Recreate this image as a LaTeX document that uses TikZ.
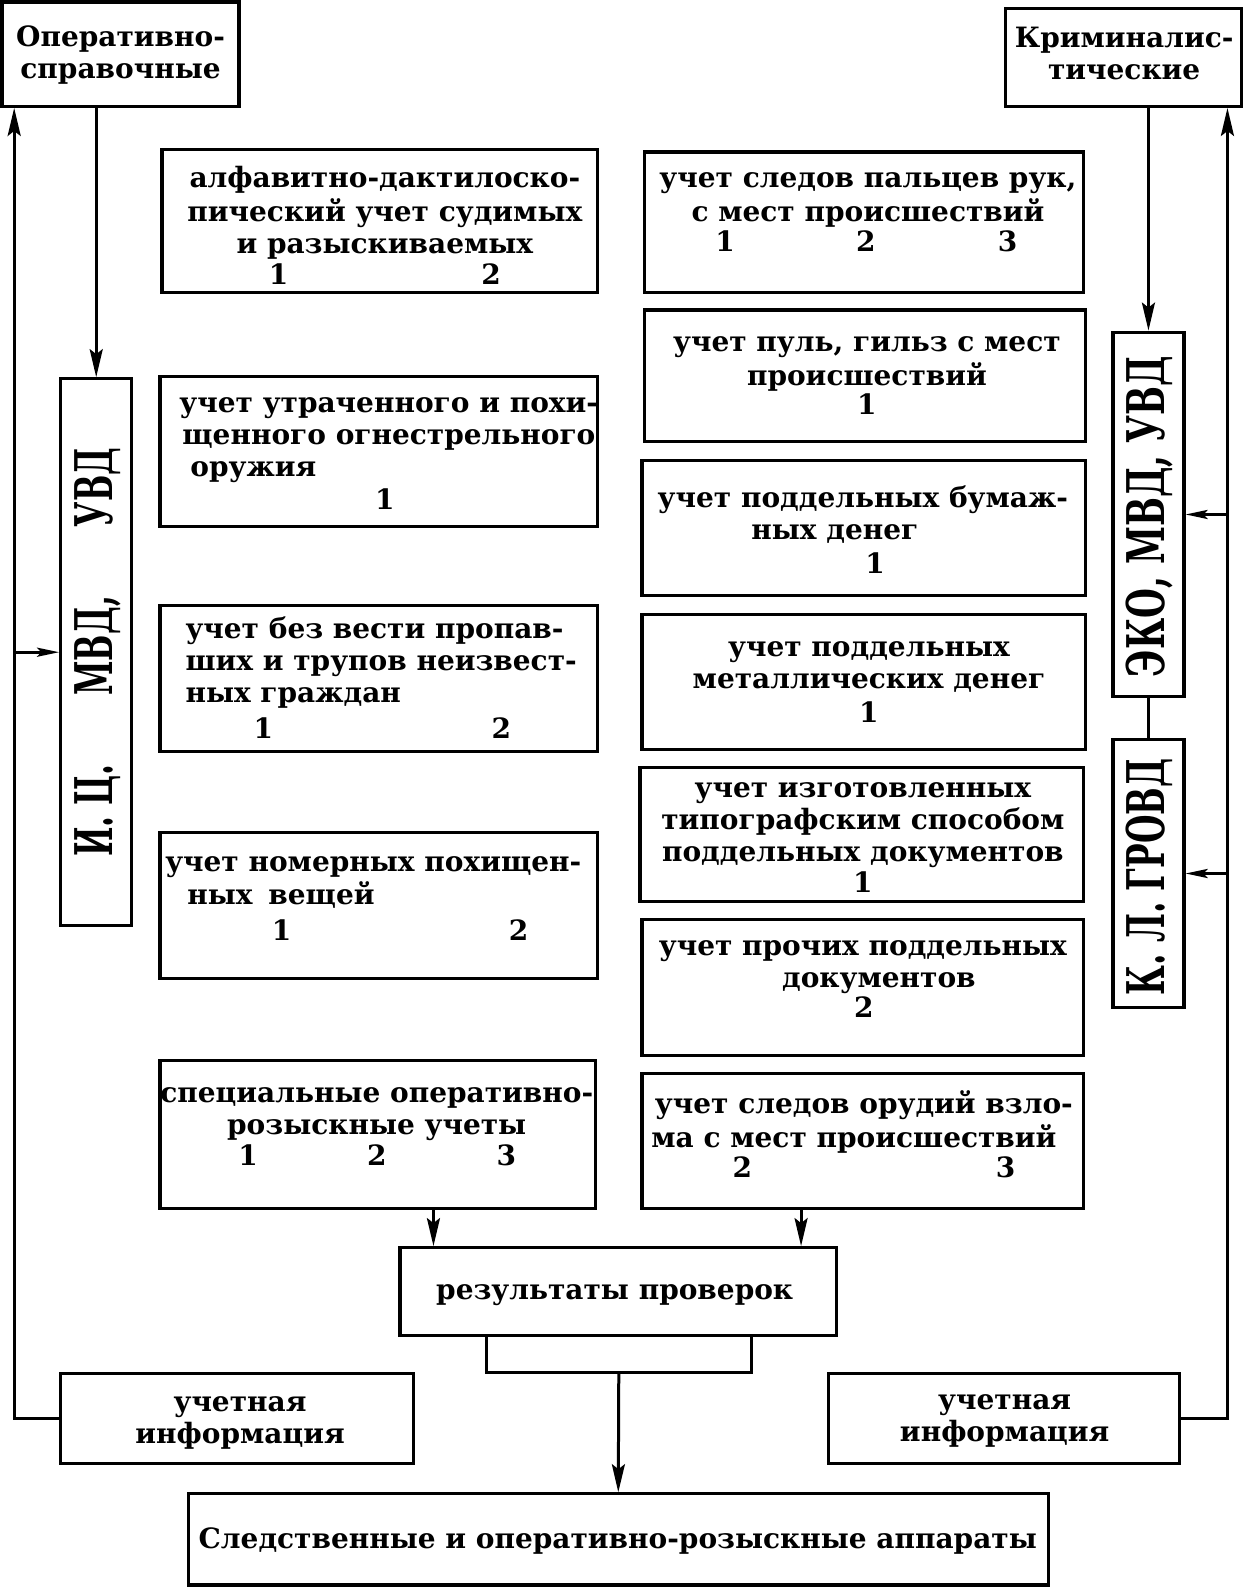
\documentclass[tikz,border=0pt]{standalone}
\usepackage{fontspec}
\setmainfont{DejaVu Serif}
\usetikzlibrary{arrows.meta,fit,calc}
\tikzset{
  bx/.style={draw, line width=3.2pt, inner sep=0pt},
  tx/.style={font=\bfseries\fontsize{28}{32}\selectfont, align=center, inner sep=0pt, anchor=north},
  txl/.style={font=\bfseries\fontsize{28}{32}\selectfont, align=left, inner sep=0pt, anchor=north west},
  nm/.style={font=\bfseries\fontsize{28}{32}\selectfont, inner sep=0pt, anchor=base},
  vt/.style={font=\bfseries\fontsize{52}{52}\selectfont, rotate=90, inner sep=0pt},
  ar/.style={line width=3pt, -{Stealth[length=28pt,width=13pt,inset=5pt]}},
  sar/.style={line width=3pt, -{Stealth[length=22pt,width=9pt,inset=4pt]}},
  ln/.style={line width=3pt},
}
\begin{document}
\begin{tikzpicture}[x=1.013pt, y=-1.013pt]
\fill[white] (0,0) rectangle (1232,1570);
\useasboundingbox (0,0) rectangle (1232,1570);

% boxes
\node[bx, fit={(2,2) (236,105)}] (A) {};
\node[bx, fit={(993,8) (1226,105)}] (B) {};
\node[bx, fit={(60,374) (130,914)}] (IC) {};
\node[bx, fit={(1099,328) (1169,688)}] (EKO) {};
\node[bx, fit={(1099,730) (1169,995)}] (KL) {};
\node[bx, fit={(160,148) (590,289)}] (L1) {};
\node[bx, fit={(158,372) (590,520)}] (L2) {};
\node[bx, fit={(158,598) (590,742)}] (L3) {};
\node[bx, fit={(158,822) (590,966)}] (L4) {};
\node[bx, fit={(158,1047) (588,1193)}] (L5) {};
\node[bx, fit={(636,150) (1070,289)}] (R1) {};
\node[bx, fit={(636,306) (1072,436)}] (R2) {};
\node[bx, fit={(634,455) (1072,588)}] (R3) {};
\node[bx, fit={(634,607) (1072,740)}] (R4) {};
\node[bx, fit={(632,758) (1070,890)}] (R5) {};
\node[bx, fit={(634,908) (1070,1042)}] (R6) {};
\node[bx, fit={(634,1060) (1070,1193)}] (R7) {};
\node[bx, fit={(395,1232) (826,1319)}] (RES) {};
\node[bx, fit={(480,1319) (742,1355)}] (SUB) {};
\node[bx, fit={(60,1356) (408,1445)}] (LU) {};
\node[bx, fit={(818,1356) (1165,1445)}] (RU) {};
\node[bx, fit={(186,1475) (1035,1565)}] (BOT) {};

% texts
\node[tx] (At) at (119,24) {\strut Оперативно-\\справочные};
\node[tx] (Bt) at (1110,25) {\strut Криминалис-\\тические};
\node[vt] (ICt) at (97,644) {\scalebox{0.6}[1]{И. Ц.\hspace{115pt}МВД,\hspace{115pt}УВД}};
\node[vt] (EKOt) at (1135,510) {\scalebox{0.66}[1]{ЭКО, МВД, УВД}};
\node[vt] (KLt) at (1135,866) {\scalebox{0.63}[1]{К. Л. ГРОВД}};

\node[tx] (L1t) at (380,163) {\strut алфавитно-дактилоско-\\пический учет судимых\\и разыскиваемых};
\node[txl] (L2t) at (177,385) {\strut учет утраченного и похи-\\\hspace*{3pt}щенного огнестрельного\\\hspace*{11pt}оружия};
\node[txl] (L3t) at (183,608) {\strut учет без вести пропав-\\ших и трупов неизвест-\\ных граждан};
\node[txl] (L4t) at (163,838) {\strut учет номерных похищен-\\\hspace*{22pt}ных\hspace{16pt}вещей};
\node[tx] (L5t) at (372,1066) {\strut специальные оперативно-\\розыскные учеты};
\node[tx] (R1t) at (857,163) {\strut учет следов пальцев рук,\\с мест происшествий};
\node[tx] (R2t) at (856,325) {\strut учет пуль, гильз с мест\\происшествий};
\node[tx] (R3t) at (852,479) {\strut учет поддельных бумаж-\\ных денег\hspace*{56pt}};
\node[tx] (R4t) at (858,626) {\strut учет поддельных\\металлических денег};
\node[tx] (R5t) at (852,765) {\strut учет изготовленных\\типографским способом\\поддельных документов};
\node[tx] (R6t) at (852,921) {\strut учет прочих поддельных\\\hspace*{32pt}документов};
\node[tx] (R7t) at (853,1077) {\strut учет следов орудий взло-\\ма с мест происшествий\hspace*{20pt}};
\node[tx] (RESt) at (607,1261) {\strut результаты проверок};
\node[tx] (LUt) at (237,1371) {\strut учетная\\информация};
\node[tx] (RUt) at (992,1369) {\strut учетная\\информация};
\node[tx] (BOTt) at (610,1507) {\strut Следственные и оперативно-розыскные аппараты};

% numbers
\node[nm] (L1a) at (275,281) {1};
\node[nm] (L1b) at (485,281) {2};
\node[nm] (L2a) at (380,503) {1};
\node[nm] (L3a) at (260,729) {1};
\node[nm] (L3b) at (495,729) {2};
\node[nm] (L4a) at (278,929) {1};
\node[nm] (L4b) at (512,929) {2};
\node[nm] (L5a) at (245,1151) {1};
\node[nm] (L5b) at (372,1151) {2};
\node[nm] (L5c) at (500,1151) {3};
\node[nm] (R1a) at (716,248) {1};
\node[nm] (R1b) at (855,248) {2};
\node[nm] (R1c) at (995,248) {3};
\node[nm] (R2a) at (856,409) {1};
\node[nm] (R3a) at (864,566) {1};
\node[nm] (R4a) at (858,713) {1};
\node[nm] (R5a) at (852,881) {1};
\node[nm] (R6a) at (853,1005) {2};
\node[nm] (R7a) at (733,1163) {2};
\node[nm] (R7b) at (993,1163) {3};

% connector coordinates
\coordinate (lx) at (14,0);
\coordinate (rx) at (1212,0);
\coordinate (c1) at (428,0);
\coordinate (c2) at (791,0);

% connectors
\draw[ar] (IC.north |- A.south) -- (IC.north);
\draw[ar] (LU.west) -| (lx |- A.south);
\draw[sar] (lx |- IC.west) -- (IC.west);
\draw[ar] (EKO.north |- B.south) -- (EKO.north);
\draw[ar] (RU.east) -| (rx |- B.south);
\draw[sar] (rx |- EKO.east) -- (EKO.east);
\draw[sar] (rx |- KL.east) -- (KL.east);
\draw[ln] (EKO.south) -- (KL.north);
\draw[ar] (c1 |- L5.south) -- (c1 |- RES.north);
\draw[ar] (c2 |- R7.south) -- (c2 |- RES.north);
\draw[ar] (SUB.south) -- (BOT.north);
\end{tikzpicture}
\end{document}
